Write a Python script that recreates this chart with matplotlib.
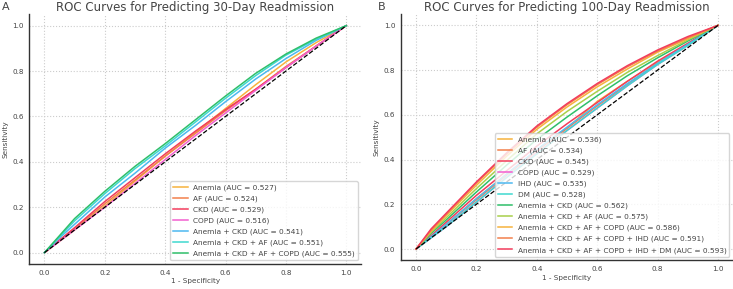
import matplotlib
matplotlib.use("Agg")
import matplotlib.pyplot as plt

# shared false-positive-rate knots
fpr = [0, 0.05, 0.1, 0.2, 0.3, 0.4, 0.5, 0.6, 0.7, 0.8, 0.9, 1.0]

labels_30 = ["Anemia", "AF", "CKD", "COPD", "Anemia + CKD",
             "Anemia + CKD + AF", "Anemia + CKD + AF + COPD"]
auc_30 = [0.527, 0.524, 0.529, 0.516, 0.541, 0.551, 0.555]
tpr_30 = [
    [0, 0.05, 0.10, 0.205, 0.315, 0.425, 0.53, 0.635, 0.74, 0.84, 0.925, 1],
    [0, 0.055, 0.105, 0.215, 0.32, 0.425, 0.525, 0.625, 0.72, 0.82, 0.91, 1],
    [0, 0.055, 0.11, 0.225, 0.33, 0.435, 0.535, 0.63, 0.72, 0.815, 0.91, 1],
    [0, 0.05, 0.10, 0.20, 0.305, 0.41, 0.515, 0.615, 0.715, 0.815, 0.91, 1],
    [0, 0.065, 0.125, 0.245, 0.35, 0.46, 0.56, 0.665, 0.765, 0.855, 0.935, 1],
    [0, 0.07, 0.14, 0.26, 0.37, 0.47, 0.575, 0.68, 0.78, 0.87, 0.94, 1],
    [0, 0.075, 0.15, 0.27, 0.38, 0.48, 0.585, 0.69, 0.79, 0.875, 0.945, 1],
]

labels_100 = ["Anemia", "AF", "CKD", "COPD", "IHD", "DM", "Anemia + CKD",
              "Anemia + CKD + AF", "Anemia + CKD + AF + COPD",
              "Anemia + CKD + AF + COPD + IHD",
              "Anemia + CKD + AF + COPD + IHD + DM"]
auc_100 = [0.536, 0.534, 0.545, 0.529, 0.535, 0.528, 0.562, 0.575, 0.586, 0.591, 0.593]
tpr_100 = [
    [0, 0.055, 0.11, 0.225, 0.335, 0.44, 0.54, 0.66, 0.75, 0.835, 0.915, 1],
    [0, 0.055, 0.11, 0.22, 0.33, 0.44, 0.54, 0.64, 0.735, 0.83, 0.915, 1],
    [0, 0.06, 0.12, 0.24, 0.35, 0.46, 0.56, 0.655, 0.75, 0.84, 0.92, 1],
    [0, 0.05, 0.10, 0.21, 0.32, 0.43, 0.53, 0.63, 0.73, 0.825, 0.91, 1],
    [0, 0.055, 0.11, 0.225, 0.335, 0.445, 0.545, 0.645, 0.74, 0.83, 0.915, 1],
    [0, 0.05, 0.10, 0.21, 0.32, 0.425, 0.53, 0.63, 0.73, 0.825, 0.91, 1],
    [0, 0.07, 0.13, 0.255, 0.375, 0.49, 0.59, 0.685, 0.775, 0.855, 0.93, 1],
    [0, 0.075, 0.14, 0.27, 0.395, 0.515, 0.615, 0.705, 0.79, 0.865, 0.935, 1],
    [0, 0.08, 0.15, 0.285, 0.415, 0.535, 0.635, 0.725, 0.805, 0.88, 0.94, 1],
    [0, 0.085, 0.155, 0.295, 0.425, 0.545, 0.645, 0.735, 0.815, 0.885, 0.945, 1],
    [0, 0.09, 0.16, 0.30, 0.43, 0.55, 0.65, 0.74, 0.82, 0.89, 0.95, 1],
]

colors = ["#f7b33d", "#f2804c", "#f23c5c", "#f25fd0", "#4db8f0",
          "#3ed8d0", "#2fbf6a", "#a8d04a"]

txt = "#444444"
plt.rcParams.update({
    "font.family": "DejaVu Sans",
    "text.color": txt,
    "axes.labelcolor": txt,
    "xtick.color": txt,
    "ytick.color": txt,
    "axes.edgecolor": "#333333",
})


def draw(ax, labels, aucs, tprs, title, letter, letter_x):
    for i, (lab, auc, tpr) in enumerate(zip(labels, aucs, tprs)):
        ax.plot(fpr, tpr, color=colors[i % len(colors)], lw=1.1,
                label=f"{lab} (AUC = {auc:.3f})")
    ax.plot([0, 1], [0, 1], color="black", ls="--", lw=0.9)
    ax.set_xlim(-0.05, 1.05)
    ax.set_ylim(-0.05, 1.05)
    ax.set_xticks([0, 0.2, 0.4, 0.6, 0.8, 1.0])
    ax.set_yticks([0, 0.2, 0.4, 0.6, 0.8, 1.0])
    ax.tick_params(labelsize=5.2, length=0, pad=4)
    ax.grid(True, ls=":", color="#cccccc", lw=0.8)
    for s in ("top", "right"):
        ax.spines[s].set_visible(False)
    for s in ("left", "bottom"):
        ax.spines[s].set_linewidth(1.0)
    ax.set_xlabel("1 - Specificity", fontsize=5.2, labelpad=2)
    ax.set_ylabel("Sensitivity", fontsize=5.2, labelpad=3)
    ax.set_title(title, fontsize=8.5, pad=2)
    leg = ax.legend(loc="lower right", fontsize=5.3, handlelength=2.0,
                    handletextpad=0.7, borderaxespad=0.5, labelspacing=0.6)
    leg.get_frame().set_edgecolor("#cccccc")
    for t in leg.get_texts():
        t.set_color(txt)
    ax.figure.text(letter_x, 0.993, letter, fontsize=8, va="top")


fig = plt.figure(figsize=(7.33, 2.89), dpi=100)
ax1 = fig.add_axes([0.040, 0.0865, 0.453, 0.864])
ax2 = fig.add_axes([0.547, 0.0997, 0.453, 0.851])
draw(ax1, labels_30, auc_30, tpr_30, "ROC Curves for Predicting 30-Day Readmission", "A", 0.003)
draw(ax2, labels_100, auc_100, tpr_100, "ROC Curves for Predicting 100-Day Readmission", "B", 0.516)

fig.savefig("out.png", dpi=100)
